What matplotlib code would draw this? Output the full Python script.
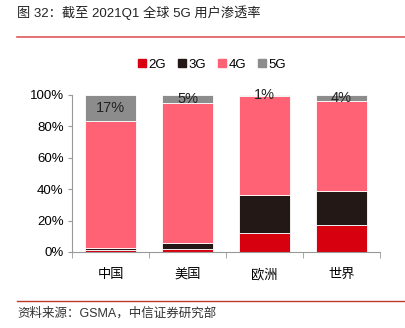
import numpy as np
import matplotlib.pyplot as plt
from matplotlib.lines import Line2D

plt.rcParams['font.family'] = ['Liberation Sans', 'Noto Sans CJK SC', 'DejaVu Sans']

# User share by network generation (%), Q1 2021
regions = ['中国', '美国', '欧洲', '世界']
share_2g = [1.3, 1.9, 11.9, 17.0]
share_3g = [1.5, 4.0, 24.5, 21.8]
share_4g = [80.2, 89.1, 62.6, 57.2]
share_5g = [17, 5, 1, 4]
series_names = ['2G', '3G', '4G', '5G']
colors = ['#d7000f', '#231815', '#ff6175', '#8c8c8c']

fig = plt.figure(figsize=(4.05, 3.28), dpi=100)
ax = fig.add_axes([72 / 405, 1 - 252 / 328, 308 / 405, 157.3 / 328])

x = np.arange(len(regions))
bottom = np.zeros(len(regions))
for vals, c in zip([share_2g, share_3g, share_4g, share_5g], colors):
    ax.bar(x, vals, width=0.66, bottom=bottom, color=c, edgecolor='white', linewidth=0.6)
    bottom += np.array(vals)

# 5G share labels centred in the top segment
for xi, v, b in zip(x, share_5g, bottom):
    ax.text(xi, b - v / 2, f'{v}%', ha='center', va='center', fontsize=10.5, color='#222222')

ax.set_xlim(-0.5, len(regions) - 0.5)
ax.set_ylim(0, 100)
ax.set_yticks(np.arange(0, 101, 20))
ax.set_yticklabels([f'{t}%' for t in range(0, 101, 20)], fontsize=9.5)
ax.set_xticks(x)
ax.set_xticklabels(regions, fontsize=9.5)
ax.tick_params(axis='x', length=0, pad=12)
ax.tick_params(axis='y', length=3, color='#999999', pad=3)
# boundary tick marks between categories
ax.set_xticks(np.arange(-0.5, len(regions)), minor=True)
ax.tick_params(axis='x', which='minor', length=4, color='#999999', direction='out')

for s in ['top', 'right']:
    ax.spines[s].set_visible(False)
ax.spines['left'].set_color('#999999')
ax.spines['bottom'].set_color('#999999')

handles = [Line2D([], [], marker='s', linestyle='', markersize=5.5, color=c) for c in colors]
fig.legend(handles, series_names, loc='center', bbox_to_anchor=(211 / 405, 1 - 65 / 328),
           ncol=4, frameon=False, fontsize=9.5, handletextpad=0.0, columnspacing=0.7,
           handlelength=1.0)

# header and footer
fig.text(17 / 405, 1 - 13 / 328, '图 32：截至 2021Q1 全球 5G 用户渗透率', fontsize=9.5,
         va='center', ha='left', color='#222222')
fig.add_artist(Line2D([17 / 405, 1], [1 - 37 / 328] * 2, color='#e05a5a', linewidth=1.2))
fig.add_artist(Line2D([17 / 405, 1], [1 - 301 / 328] * 2, color='#c0392b', linewidth=1.0))
fig.text(17 / 405, 1 - 313 / 328, '资料来源：GSMA，中信证券研究部', fontsize=9,
         va='center', ha='left', color='#333333')

fig.savefig('out.png', dpi=100)
